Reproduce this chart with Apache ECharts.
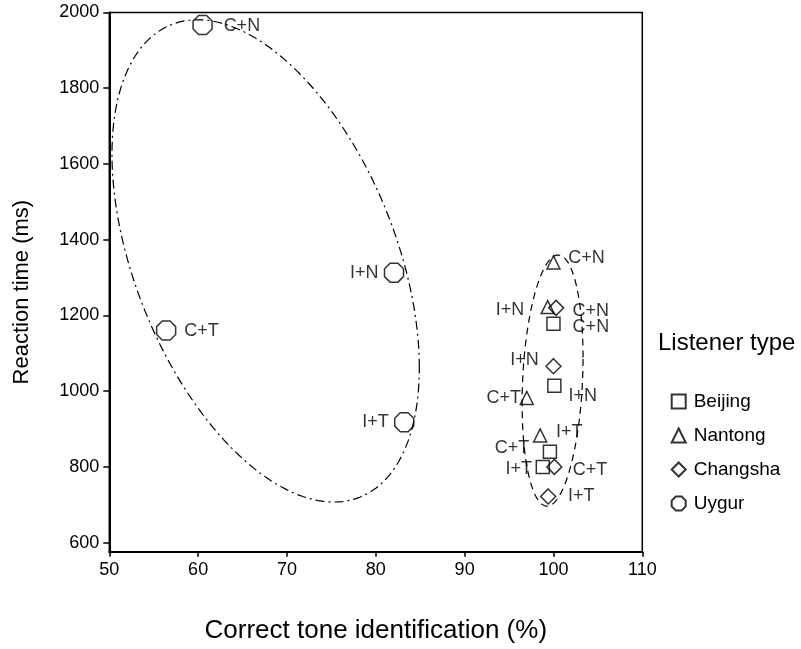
<!DOCTYPE html>
<html>
<head>
<meta charset="utf-8">
<script src="https://cdn.jsdelivr.net/npm/echarts@6/dist/echarts.min.js"></script>
<style>
  html, body { margin: 0; padding: 0; background: #fff; }
  #chart { width: 801px; height: 649px; }
</style>
</head>
<body>
<div id="chart"></div>
<script>
// Stimulus conditions, in the same order for every listener group
const conditions = ['C+N', 'I+N', 'C+T', 'I+T'];

// Correct tone identification (%) and reaction time (ms) per listener group
const beijingX  = [100.0, 100.1, 99.6, 98.8];
const beijingY  = [1178, 1014, 840, 800];
const nantongX  = [100.0, 99.35, 97.0, 98.5];
const nantongY  = [1340, 1222, 982, 883];
const changshaX = [100.3, 100.0, 100.1, 99.4];
const changshaY = [1220, 1066, 800, 722];
const uygurX    = [60.5, 82.05, 56.4, 83.2];
const uygurY    = [1967, 1313, 1160, 918];

const groupNames = ['Beijing', 'Nantong', 'Changsha', 'Uygur'];

// Axis tick values
const xTicks = [50, 60, 70, 80, 90, 100, 110];
const yTicks = [600, 800, 1000, 1200, 1400, 1600, 1800, 2000];

// Grouping ellipses in data units: centre, first and second conjugate half-axes
const ellipseCenters = [[67.6, 1344], [99.9, 1028]];
const ellipseAxisU   = [[17.3, -282], [3.43, 60.6]];
const ellipseAxisV   = [[0, 571], [0, 326]];

// ---- styling ----
const FONT = '"Liberation Sans", Arial, Helvetica, sans-serif';
const octagon = 'path://M29.3,0 L70.7,0 L100,29.3 L100,70.7 L70.7,100 L29.3,100 L0,70.7 L0,29.3 Z';
const ellipseDash = [[9, 4, 2, 4], [7, 5]];

// label side, distance from the symbol edge, vertical shift
const labelLayout = {
  Beijing:  [['right', 11.9, 3], ['right', 6.8, 10], ['left', 13.5, -4], ['left', 3.5, 2]],
  Nantong:  [['right', 7.5, -4], ['left', 16.2, 3], ['left', -1.5, 0], ['right', 8.5, -3]],
  Changsha: [['right', 8.2, 3], ['left', 6.5, -6], ['right', 10.2, 3], ['right', 11.5, 0]],
  Uygur:    [['right', 10.8, 1], ['left', 5.2, 0], ['right', 7.8, 0], ['left', 5.2, 0]]
};
const groupSymbol = { Beijing: 'rect', Nantong: 'triangle', Changsha: 'diamond', Uygur: octagon };
const groupSize = { Beijing: 13, Nantong: 13, Changsha: 15, Uygur: 19 };

function scatterSeries(name, xs, ys) {
  const layout = labelLayout[name];
  return {
    type: 'scatter',
    name: name,
    symbol: groupSymbol[name],
    symbolSize: groupSize[name],
    itemStyle: { color: 'rgba(0,0,0,0)', borderColor: '#000', borderWidth: 1.5 },
    emphasis: { disabled: true },
    z: 3,
    data: conditions.map(function (c, i) {
      return {
        value: [xs[i], ys[i]],
        name: c,
        label: {
          show: true,
          position: layout[i][0],
          distance: layout[i][1],
          offset: [0, layout[i][2]],
          formatter: c,
          fontSize: 18,
          color: '#000',
          fontFamily: FONT
        }
      };
    })
  };
}

const ellipseSeries = {
  type: 'custom',
  coordinateSystem: 'cartesian2d',
  silent: true,
  clip: false,
  z: 1,
  data: ellipseCenters,
  renderItem: function (params, api) {
    const k = params.dataIndex;
    const c = ellipseCenters[k], u = ellipseAxisU[k], v = ellipseAxisV[k];
    const pts = [];
    const n = 180;
    for (let j = 0; j <= n; j++) {
      const t = j / n * 2 * Math.PI;
      const ct = Math.cos(t), st = Math.sin(t);
      pts.push(api.coord([c[0] + u[0] * ct + v[0] * st, c[1] + u[1] * ct + v[1] * st]));
    }
    return {
      type: 'polyline',
      shape: { points: pts },
      style: { fill: 'none', stroke: '#000', lineWidth: 1.2, lineDash: ellipseDash[k] }
    };
  }
};

const chart = echarts.init(document.getElementById('chart'), null, { renderer: 'canvas' });
chart.setOption({
  animation: false,
  backgroundColor: '#fff',
  textStyle: { fontFamily: FONT, color: '#000' },
  title: {
    text: 'Listener type',
    left: 653,
    top: 326,
    textStyle: { fontSize: 24, fontWeight: 'normal', color: '#000', fontFamily: FONT }
  },
  legend: {
    data: groupNames,
    orient: 'vertical',
    left: 665.7,
    top: 387,
    itemWidth: 14,
    itemHeight: 14,
    itemGap: 15,
    selectedMode: false,
    textStyle: { fontSize: 19, color: '#000', fontFamily: FONT, padding: [0, 0, 0, 3] }
  },
  grid: {
    left: 109.3,
    right: 158.7,
    top: 12.5,
    bottom: 97.3,
    show: true,
    borderColor: '#000',
    borderWidth: 1.5,
    backgroundColor: 'transparent'
  },
  xAxis: {
    type: 'value',
    min: xTicks[0],
    max: xTicks[xTicks.length - 1],
    interval: 10,
    name: 'Correct tone identification (%)',
    nameLocation: 'middle',
    nameGap: 66,
    nameTextStyle: { fontSize: 26, color: '#000', fontFamily: FONT },
    axisLine: { show: true, onZero: false, lineStyle: { color: '#000', width: 2 } },
    axisTick: { show: true, length: 5, lineStyle: { color: '#000', width: 1.5 } },
    axisLabel: { fontSize: 18, color: '#000', margin: 9, fontFamily: FONT },
    splitLine: { show: false }
  },
  yAxis: {
    type: 'value',
    min: 576,
    max: 2000,
    name: 'Reaction time (ms)',
    nameLocation: 'middle',
    nameRotate: 90,
    nameGap: 76,
    nameTextStyle: { fontSize: 22, color: '#000', fontFamily: FONT, padding: [0, 20, 0, 0] },
    axisLine: { show: true, onZero: false, lineStyle: { color: '#000', width: 2 } },
    axisTick: { show: true, length: 6, customValues: yTicks, lineStyle: { color: '#000', width: 1.5 } },
    axisLabel: {
      fontSize: 18, color: '#000', margin: 10, customValues: yTicks, fontFamily: FONT,
      formatter: function (v) { return String(v); }
    },
    splitLine: { show: false }
  },
  series: [
    ellipseSeries,
    scatterSeries('Beijing', beijingX, beijingY),
    scatterSeries('Nantong', nantongX, nantongY),
    scatterSeries('Changsha', changshaX, changshaY),
    scatterSeries('Uygur', uygurX, uygurY)
  ]
});
</script>
</body>
</html>
